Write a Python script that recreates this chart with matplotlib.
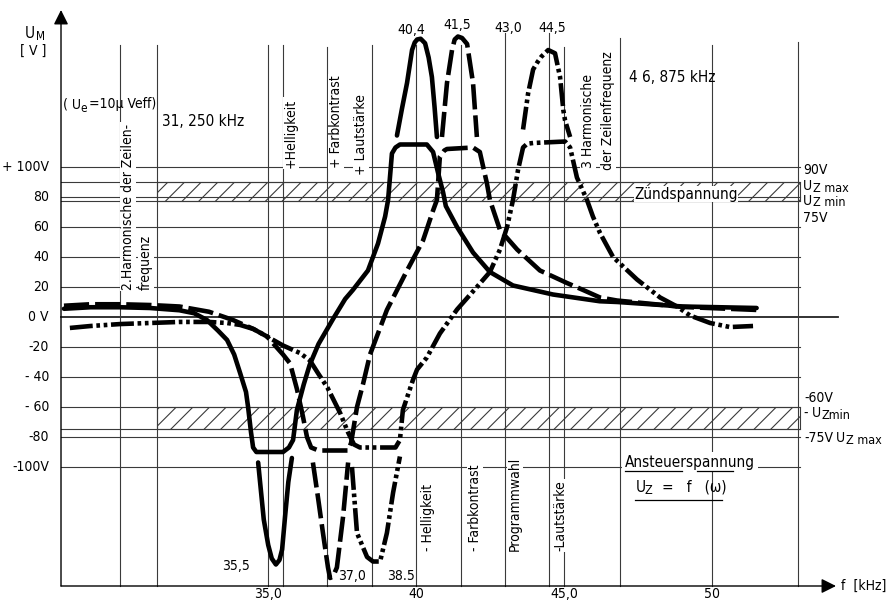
import matplotlib
matplotlib.use('Agg')
import matplotlib.pyplot as plt
from matplotlib import font_manager
from matplotlib.patches import Rectangle

# ---------------- data (f in kHz, U in V) ----------------
# solid curve (clipped), its unclipped peak and valley
solid_f = [28.10, 29.0, 30.0, 31.0, 32.0, 32.5, 32.93, 33.3, 33.61, 33.85, 34.05, 34.25, 34.32, 34.42, 34.49,
           34.6, 35.5, 35.7, 35.84, 35.97, 36.2, 36.4, 36.7, 37.2, 37.6, 37.86, 38.37, 38.71, 38.95, 39.05,
           39.18, 39.3, 39.45, 40.36, 40.57, 40.74, 40.91, 41.0, 41.38, 41.92, 42.49, 43.27, 44.62, 46.2,
           46.8, 49.0, 51.5]
solid_v = [5.5, 6.5, 6.5, 6, 4.5, 2.5, -2, -9, -15.3, -25, -37.3, -50, -60, -77, -87,
           -90, -90, -87, -82, -62, -45, -32, -18, -1, 12, 18, 31, 49, 67, 78,
           109, 113, 115, 115, 110, 96, 83, 74, 60, 43, 30, 21, 15, 10.5,
           10, 7, 6]
solid_peak_f = [39.35, 39.52, 39.69, 39.86, 39.95, 40.03, 40.15, 40.30, 40.42, 40.53, 40.62, 40.70]
solid_peak_v = [121, 139, 156, 178, 183, 185, 185.5, 182.5, 173, 160, 140, 120]
solid_val_f = [34.66, 34.75, 34.85, 35.0, 35.12, 35.26, 35.38, 35.47, 35.57, 35.68, 35.80]
solid_val_v = [-97, -115, -135, -152, -161, -165, -162, -155, -133, -110, -94]

# dashed curve
dash_f = [28.10, 29.0, 30.0, 31.0, 32.0, 33.0, 33.81, 34.5, 34.96, 35.5, 35.74, 35.97, 36.17, 36.31, 36.45,
          36.7, 37.7, 37.8, 38.0, 38.2, 38.44, 39.01, 39.69, 40.23, 40.57, 40.70, 40.80, 40.95, 41.04,
          41.92, 42.15, 42.39, 42.49, 42.83, 43.41, 44.18, 45.09, 45.64, 46.21, 46.78, 49.0, 51.51]
dash_v = [7.5, 8.5, 8.5, 8, 7, 3.5, -2, -8, -13, -25, -31, -48, -66, -80, -87,
          -89, -89, -84, -60, -45, -25, 4.7, 31, 51, 71, 78, 107, 111, 112,
          113, 110, 89, 78, 58, 45, 31, 22.7, 18, 13, 11, 6.7, 4.7]
dash_peak_f = [40.87, 41.04, 41.21, 41.30, 41.41, 41.55, 41.72, 41.92, 42.05]
dash_peak_v = [120, 156, 178, 185, 187, 186, 182, 156, 120]
dash_val_f = [36.51, 36.68, 36.85, 37.02, 37.09, 37.19, 37.32, 37.53, 37.70]
dash_val_v = [-97, -120, -144, -167, -174, -173, -167, -133, -97]

# dash-dot-dot curve
dd_f = [28.30, 29.0, 30.0, 31.0, 32.0, 33.0, 33.61, 34.05, 34.5, 34.96, 35.5, 36.07, 36.41, 36.7, 37.0,
        37.43, 37.7, 37.9, 38.1, 39.3, 39.45, 39.55, 39.89, 40.03, 40.36, 40.80, 41.38, 42.05, 42.49,
        42.83, 43.07, 43.27, 43.44, 43.61, 43.75, 43.95, 45.03, 45.20, 45.43, 45.77, 45.97, 46.21, 46.65,
        47.46, 48.24, 48.81, 49.25, 49.93, 50.60, 51.38]
dd_v = [-7.3, -6, -4.7, -4, -3.3, -3.3, -4, -5.3, -8, -13, -19, -24, -29, -38, -47,
        -64, -77, -85, -87, -87, -82, -62, -42, -35, -27, -11, 5, 20, 30,
        45, 60, 78, 98, 113, 115.5, 116, 117, 113, 93, 78, 67, 56, 40,
        25, 13, 7, 1, -4, -6.7, -6]
dd_peak_f = [43.61, 43.78, 43.95, 44.10, 44.23, 44.46, 44.69, 44.86, 44.97, 45.03, 45.20]
dd_peak_v = [125, 149, 165, 170, 173.6, 178, 175.8, 160, 138, 131, 120]
dd_val_f = [37.83, 38.0, 38.34, 38.54, 38.78, 39.01, 39.22, 39.45]
dd_val_v = [-100, -144, -160, -163, -163, -144, -117, -93]

# grid
vgrid_f = [30.0, 31.25, 35.0, 35.5, 37.0, 38.5, 40.0, 41.5, 43.0, 44.5, 45.0, 46.875, 50.0, 52.9]
vgrid_top = [181, 181, 181, 181, 180, 181, 181, 181, 189, 189, 180, 186, 181, 183]
hgrid_v = [100, 90, 80, 77, 60, 40, 20, -20, -40, -60, -75, -80, -100]
ytick_v = [100, 80, 60, 40, 20, 0, -20, -40, -60, -80, -100]
ytick_lbl = ['+ 100V', '80', '60', '40', '20', '0 V', '-20', '- 40', '- 60', '-80', '-100V']
xtick_f = [35.0, 40.0, 45.0, 50.0]
xtick_lbl = ['35,0', '40', '45,0', '50']
band_upper = (77, 90)
band_lower = (-75, -60)
peak_lbl = ['40,4', '41,5', '43,0', '44,5']
valley_lbl = ['35,5', '37,0', '38.5']

# ---------------- figure ----------------
names = {f.name for f in font_manager.fontManager.ttflist}
if 'Liberation Sans Narrow' in names:
    plt.rcParams['font.family'] = ['Liberation Sans Narrow', 'DejaVu Sans']
else:
    plt.rcParams['font.family'] = ['DejaVu Sans']
    plt.rcParams['font.stretch'] = 'condensed'
plt.rcParams['hatch.linewidth'] = 0.8

XMIN, XMAX = 25.939, 56.142
YMIN, YMAX = -190.667, 211.333
fig = plt.figure(figsize=(8.94, 6.03), dpi=100)
ax = fig.add_axes([0, 0, 1, 1])
ax.set_xlim(XMIN, XMAX)
ax.set_ylim(YMIN, YMAX)
ax.axis('off')

def X(px):  # layout helper: pixel column -> kHz
    return XMIN + px / 29.6

def Y(py):  # layout helper: pixel row -> V
    return YMAX - py / 1.5

GC = '#3a3a3a'
F0, F1 = 28.0, 52.95
BOTTOM = Y(586)

# horizontal grid
for v in hgrid_v:
    ax.plot([F0, F1], [v, v], color=GC, lw=0.8, zorder=1)
ax.plot([F0, X(838)], [0, 0], color='#222', lw=1.3, zorder=1)
# vertical grid
for f, t in zip(vgrid_f, vgrid_top):
    ax.plot([f, f], [BOTTOM, t], color=GC, lw=0.8, zorder=1)

# hatched bands
for lo, hi in (band_upper, band_lower):
    ax.add_patch(Rectangle((31.25, lo), F1 - 31.25, hi - lo, fill=False, hatch='//',
                           edgecolor=GC, lw=0.8, zorder=1))

# axes with arrows
ax.annotate('', xy=(F0, Y(10)), xytext=(F0, BOTTOM),
            arrowprops=dict(arrowstyle='-|>', color='k', lw=1.0, mutation_scale=22,
                            shrinkA=0, shrinkB=0), zorder=3)
ax.annotate('', xy=(X(836), BOTTOM), xytext=(F0, BOTTOM),
            arrowprops=dict(arrowstyle='-|>', color='k', lw=1.0, mutation_scale=22,
                            shrinkA=0, shrinkB=0), zorder=3)

# curves
LW = 3.3
kw = dict(color='black', lw=LW, zorder=4, solid_capstyle='round', dash_capstyle='butt')
dashed = (0, (5.5, 1.3))
dashdd = (0, (5.0, 0.8, 0.8, 0.8, 0.8, 0.8))
for fx, vy in ((solid_f, solid_v), (solid_peak_f, solid_peak_v), (solid_val_f, solid_val_v)):
    ax.plot(fx, vy, ls='-', **kw)
for fx, vy in ((dash_f, dash_v), (dash_peak_f, dash_peak_v), (dash_val_f, dash_val_v)):
    ax.plot(fx, vy, ls=dashed, **kw)
for fx, vy in ((dd_f, dd_v), (dd_peak_f, dd_peak_v), (dd_val_f, dd_val_v)):
    ax.plot(fx, vy, ls=dashdd, **kw)

# ---------------- texts ----------------
FS = 10
white = dict(facecolor='white', edgecolor='none', pad=1.0)

for v, s in zip(ytick_v, ytick_lbl):
    ax.text(X(49), v, s, ha='right', va='center', fontsize=FS, zorder=5)
for f, s in zip(xtick_f, xtick_lbl):
    ax.text(f, Y(594), s, ha='center', va='center', fontsize=FS, zorder=5)
ax.text(X(841), BOTTOM, 'f  [kHz]', ha='left', va='center', fontsize=FS)

ax.text(X(25), Y(33), 'U', ha='left', va='center', fontsize=11)
ax.text(X(36), Y(36), 'M', ha='left', va='center', fontsize=8.5)
ax.text(X(33), Y(51), '[ V ]', ha='center', va='center', fontsize=FS)
ax.text(X(63), Y(104), '( U', ha='left', va='center', fontsize=FS)
ax.text(X(80), Y(108), 'e', ha='left', va='center', fontsize=8.5)
ax.text(X(89), Y(104), '=10µ Veff)', ha='left', va='center', fontsize=FS)
ax.text(X(162), Y(122), '31, 250 kHz', ha='left', va='center', fontsize=11)
ax.text(X(629), Y(78), '4 6, 875 kHz', ha='left', va='center', fontsize=11)

for (px, py), s in zip([(411, 30), (457, 25), (508, 28), (552, 28)], peak_lbl):
    ax.text(X(px), Y(py), s, ha='center', va='center', fontsize=FS, zorder=5)
for (px, py), s in zip([(236, 566), (352, 576), (401, 576)], valley_lbl):
    ax.text(X(px), Y(py), s, ha='center', va='center', fontsize=FS, zorder=5)

# right-hand labels
def uz(px, py, sub):
    ax.text(X(px), Y(py), 'U', ha='left', va='center', fontsize=FS)
    ax.text(X(px + 10), Y(py + 2), sub, ha='left', va='center', fontsize=9)

ax.text(X(803), Y(170), '90V', ha='left', va='center', fontsize=FS)
uz(803, 186, 'Z max')
uz(803, 201, 'Z min')
ax.text(X(803), Y(218), '75V', ha='left', va='center', fontsize=FS)
ax.text(X(804), Y(398), '-60V', ha='left', va='center', fontsize=FS)
ax.text(X(804), Y(413), '- ', ha='left', va='center', fontsize=FS)
uz(812, 413, 'Zmin')
ax.text(X(804), Y(438), '-75V', ha='left', va='center', fontsize=FS)
uz(836, 438, 'Z max')

ax.text(X(686), Y(194), 'Zündspannung', ha='center', va='center', fontsize=11,
        bbox=dict(facecolor='white', edgecolor='none', pad=0.3), zorder=5)
ax.text(X(625), Y(462), 'Ansteuerspannung', ha='left', va='center', fontsize=11,
        bbox=dict(facecolor='white', edgecolor='none', pad=2), zorder=5)
ax.plot([X(625), X(682)], [Y(471), Y(471)], color='k', lw=0.9, zorder=5)
ax.plot([X(697), X(733)], [Y(471), Y(471)], color='k', lw=0.9, zorder=5)
ax.text(X(636), Y(487), 'U', ha='left', va='center', fontsize=11, zorder=5)
ax.text(X(645), Y(490), 'Z', ha='left', va='center', fontsize=9, zorder=5)
ax.text(X(662), Y(487), '=   f   (ω)', ha='left', va='center', fontsize=11, zorder=5)
ax.plot([X(635), X(722)], [Y(500), Y(500)], color='k', lw=0.9, zorder=5)

# vertical labels (read bottom to top)
vlabels = [
    (128, 290, '2.Harmonische der Zeilen-'),
    (146, 290, 'frequenz'),
    (291, 168, '+Helligkeit'),
    (336, 168, '+ Farbkontrast'),
    (361, 175, '+ Lautstärke'),
    (588, 168, '3 Harmonische'),
    (608, 170, 'der Zeilenfrequenz'),
    (428, 551, '- Helligkeit'),
    (475, 551, '- Farbkontrast'),
    (515, 551, 'Programmwahl'),
    (560, 551, '-Lautstärke'),
]
for px, py, s in vlabels:
    ax.text(X(px), Y(py), s, rotation=90, ha='center', va='bottom', fontsize=FS,
            bbox=white, zorder=3)

fig.savefig('out.png', dpi=100, facecolor='white')
